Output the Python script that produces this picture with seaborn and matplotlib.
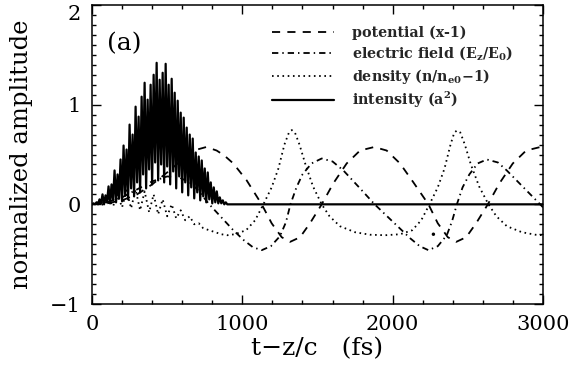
import numpy as np
import pandas as pd
import matplotlib
matplotlib.use("Agg")
import matplotlib.pyplot as plt
from matplotlib.ticker import MultipleLocator
import seaborn as sns

# ---------------- data ----------------
# potential (x-1), dashed
pot_t = [0, 100, 200, 300, 400, 500, 600, 650, 700, 760, 829, 880, 940, 1029,
         1129, 1195, 1262, 1317, 1384, 1450, 1528, 1605, 1694, 1783, 1877,
         1960, 2049, 2138, 2238, 2300, 2367, 2422, 2489, 2555, 2633, 2710,
         2799, 2888, 2982, 3000]
pot_v = [0.0, 0.01, 0.04, 0.10, 0.20, 0.32, 0.45, 0.51, 0.55, 0.575, 0.54, 0.49,
         0.41, 0.24, 0.0, -0.19, -0.33, -0.377, -0.33, -0.19, 0.0, 0.21, 0.41,
         0.54, 0.575, 0.54, 0.41, 0.22, 0.0, -0.19, -0.33, -0.377, -0.33,
         -0.19, 0.0, 0.21, 0.41, 0.54, 0.575, 0.572]

# electric field (Ez/E0), dash-dot
ef_t = [0, 100, 200, 300, 400, 500, 580, 650, 700, 780, 860, 940, 1010, 1070,
        1129, 1190, 1250, 1290, 1320, 1360, 1400, 1460, 1528, 1600, 1672, 1783,
        1880, 2005, 2116, 2180, 2238, 2300, 2360, 2395, 2427, 2465, 2510, 2565,
        2626, 2700, 2759, 2870, 2981, 3000]
ef_v = [0.0, 0.02, 0.07, 0.15, 0.23, 0.28, 0.27, 0.22, 0.15, 0.0, -0.13, -0.26,
        -0.36, -0.43, -0.46, -0.42, -0.32, -0.18, 0.0, 0.17, 0.30, 0.41, 0.46,
        0.43, 0.34, 0.16, 0.0, -0.18, -0.34, -0.42, -0.46, -0.42, -0.31, -0.17,
        0.0, 0.17, 0.30, 0.41, 0.45, 0.42, 0.34, 0.17, 0.0, -0.03]

# density (n/ne0 - 1), dotted
den_t = [0, 40, 80, 110, 140, 170, 200, 230, 260, 290, 320, 350, 380, 410, 440,
         470, 500, 530, 560, 590, 620, 650, 680, 710, 740, 780, 820, 860, 900,
         950, 1025, 1085, 1140, 1195, 1240, 1280, 1310, 1329, 1350, 1380, 1420,
         1470, 1528, 1580, 1650, 1750, 1850, 1950, 2050, 2130, 2190, 2245, 2300,
         2345, 2385, 2410, 2427, 2450, 2480, 2520, 2575, 2637, 2690, 2760, 2860,
         2950, 3000]
den_v = [0.0, 0.02, -0.01, 0.06, -0.02, 0.10, -0.03, 0.14, -0.04, 0.15, -0.06,
         0.13, -0.08, 0.10, -0.10, 0.05, -0.12, 0.0, -0.14, -0.06, -0.16, -0.12,
         -0.20, -0.19, -0.24, -0.26, -0.28, -0.30, -0.31, -0.30, -0.26, -0.16,
         0.0, 0.17, 0.36, 0.60, 0.72, 0.745, 0.72, 0.60, 0.40, 0.18, 0.0, -0.12,
         -0.22, -0.28, -0.305, -0.31, -0.30, -0.26, -0.16, 0.0, 0.17, 0.36, 0.60,
         0.72, 0.74, 0.72, 0.60, 0.40, 0.18, 0.0, -0.12, -0.22, -0.28, -0.305,
         -0.31]

# intensity (a^2), solid, fast oscillation (alternating troughs and crests)
int_t = [0, 10, 20, 30, 40, 50, 60, 70, 80, 90, 100, 110, 120, 130, 140, 150,
         160, 170, 180, 190, 200, 210, 220, 230, 240, 250, 260, 270, 280, 290,
         300, 310, 320, 330, 340, 350, 360, 370, 380, 390, 400, 410, 420, 430,
         440, 450, 460, 470, 480, 490, 500, 510, 520, 530, 540, 550, 560, 570,
         580, 590, 600, 610, 620, 630, 640, 650, 660, 670, 680, 690, 700, 710,
         720, 730, 740, 750, 760, 770, 780, 790, 800, 810, 820, 830, 840, 850,
         860, 870, 880, 890, 900, 910, 3000]
int_v = [0.0, 0.01, 0.0, 0.02, 0.0, 0.05, 0.01, 0.10, 0.0, 0.09, 0.02, 0.18,
         0.01, 0.20, 0.04, 0.34, 0.02, 0.30, 0.06, 0.45, 0.03, 0.59, 0.10, 0.55,
         0.05, 0.80, 0.16, 0.70, 0.08, 0.98, 0.22, 0.88, 0.12, 1.08, 0.30, 1.22,
         0.16, 1.05, 0.35, 1.20, 0.20, 1.30, 0.42, 1.42, 0.24, 1.25, 0.40, 1.32,
         0.22, 1.41, 0.38, 1.20, 0.20, 1.26, 0.33, 1.12, 0.16, 1.04, 0.28, 0.92,
         0.12, 0.87, 0.22, 0.77, 0.09, 0.70, 0.17, 0.66, 0.06, 0.52, 0.12, 0.48,
         0.04, 0.44, 0.08, 0.36, 0.02, 0.32, 0.05, 0.22, 0.01, 0.17, 0.02, 0.13,
         0.01, 0.07, 0.01, 0.04, 0.0, 0.02, 0.0, 0.0, 0.0]

# isolated scan mark
spot_t = [2271]
spot_v = [-0.30]

x_ticks = [0, 1000, 2000, 3000]
y_ticks = [-1, 0, 1, 2]
labels = ["potential (x-1)",
          r"electric field ($\mathregular{E_z/E_0}$)",
          r"density ($\mathregular{n/n_{e0}{-}1}$)",
          r"intensity ($\mathregular{a^2}$)"]

# ---------------- plot ----------------
sns.set_theme(style="ticks")
plt.rcParams["font.family"] = ["DejaVu Serif"]
plt.rcParams["axes.linewidth"] = 1.1

fig = plt.figure(figsize=(5.86, 3.72), dpi=100)
ax = fig.add_axes([92 / 586, 68 / 372, 451 / 586, 299 / 372])

lw = 1.3
df_p = pd.DataFrame({"t": pot_t, "v": pot_v})
df_e = pd.DataFrame({"t": ef_t, "v": ef_v})
df_d = pd.DataFrame({"t": den_t, "v": den_v})
df_i = pd.DataFrame({"t": int_t, "v": int_v})

sns.lineplot(data=df_p, x="t", y="v", ax=ax, color="black", lw=lw,
             linestyle=(0, (4.5, 4.0)), estimator=None, sort=False, label=labels[0])
sns.lineplot(data=df_e, x="t", y="v", ax=ax, color="black", lw=lw,
             linestyle=(0, (3.5, 2.2, 0.8, 2.2)), estimator=None, sort=False,
             label=labels[1])
sns.lineplot(data=df_d, x="t", y="v", ax=ax, color="black", lw=lw,
             linestyle=(0, (0.9, 2.0)), estimator=None, sort=False, label=labels[2])
sns.lineplot(data=df_i, x="t", y="v", ax=ax, color="black", lw=1.6,
             linestyle="-", estimator=None, sort=False, label=labels[3])
sns.scatterplot(x=spot_t, y=spot_v, ax=ax, color="black", s=6, edgecolor="none")

ax.set_xlim(0, 3000)
ax.set_ylim(-1, 2)
ax.set_xticks(x_ticks)
ax.set_yticks(y_ticks)
ax.set_xticklabels([str(v) for v in x_ticks])
ax.set_yticklabels(["\u22121", "0", "1", "2"])
ax.xaxis.set_minor_locator(MultipleLocator(200))
ax.yaxis.set_minor_locator(MultipleLocator(0.1))
ax.tick_params(which="both", direction="in", top=True, right=True,
               color="black", width=1.0, labelsize=15, labelcolor="black")
ax.tick_params(which="major", length=6.5, pad=8)
ax.tick_params(which="minor", length=3.2)
for s in ax.spines.values():
    s.set_color("black")
# keep the top label inside the canvas, as in the reference
ax.get_yticklabels()[-1].set_verticalalignment("top")

ax.set_xlabel("t\u2212z/c   (fs)", fontsize=18, labelpad=2, color="black")
ax.set_ylabel("normalized amplitude", fontsize=17.5, labelpad=12, color="black")

ax.text(100, 1.61, "(a)", fontsize=18, ha="left", va="center", color="black")

leg = ax.legend(loc="upper left", bbox_to_anchor=((272 - 92) / 451, (303 - 25) / 299),
                frameon=False, borderaxespad=0, borderpad=0, handlelength=4.3,
                handletextpad=1.3, labelspacing=0.3,
                prop={"family": "DejaVu Serif", "weight": "bold", "size": 10.3})

fig.savefig("out.png", dpi=100, facecolor="white")
